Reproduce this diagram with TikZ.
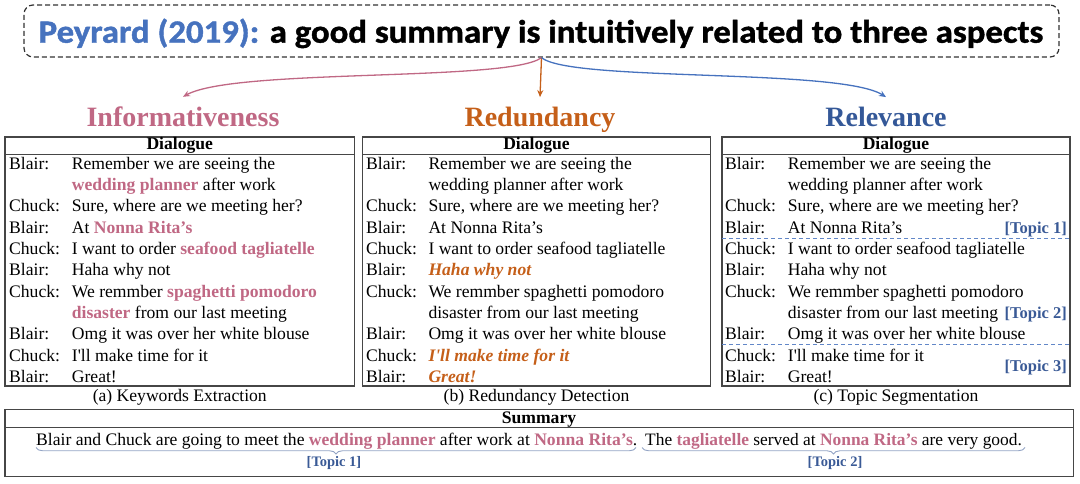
\documentclass[tikz,border=0pt]{standalone}
\usepackage{fontspec}
\setmainfont{Liberation Serif}
\newfontfamily\titlefont[BoldFeatures={FakeBold=1.2}]{Carlito}
\usetikzlibrary{arrows.meta,decorations.pathreplacing}
\definecolor{pinkc}{RGB}{192,104,132}
\definecolor{orangec}{RGB}{197,95,25}
\definecolor{titleblue}{RGB}{70,114,190}
\definecolor{relblue}{RGB}{52,88,152}
\definecolor{topicc}{RGB}{58,90,150}
\definecolor{framec}{RGB}{70,70,70}
\newcommand{\hlp}[1]{\textbf{\textcolor{pinkc}{#1}}}
\newcommand{\hlo}[1]{\textbf{\textit{\textcolor{orangec}{#1}}}}
\newcommand{\drow}[6]{\node[txt] (#1s) at (#2,#4) {#5}; \node[txt] (#1t) at (#3,#4) {#6};}
\newcommand{\dcont}[4]{\node[txt] (#1t) at (#2,#3) {#4};}
\tikzset{
  txt/.style={anchor=base west, inner sep=0pt, font=\fontsize{17.6}{21}\selectfont},
  hdr/.style={anchor=base, inner sep=0pt, font=\fontsize{17.6}{21}\selectfont\bfseries},
  capt/.style={anchor=base, inner sep=0pt, font=\fontsize{17.6}{21}\selectfont},
  aspect/.style={anchor=base, inner sep=0pt, font=\fontsize{28}{32}\selectfont\bfseries},
  frame/.style={draw=framec, line width=1.2pt},
  topic/.style={anchor=base east, inner sep=0pt, text=topicc, font=\fontsize{16.5}{20}\selectfont\bfseries},
  stopic/.style={anchor=base, inner sep=0pt, text=topicc, font=\fontsize{14.5}{17}\selectfont\bfseries},
  seg/.style={draw=titleblue!85, dash pattern=on 4pt off 3pt, line width=1pt},
  bracestyle/.style={draw=topicc!55, line width=0.9pt, decorate, decoration={brace, mirror, amplitude=6.5pt}},
  titlebox/.style={draw=black!80, dash pattern=on 5pt off 3pt, line width=1.2pt, rounded corners=9pt, minimum width=1035pt, minimum height=52pt, inner sep=0pt},
  conn/.style={line width=1.3pt, -{Stealth[length=7pt,width=6pt]}},
}
\begin{document}
\begin{tikzpicture}[x=1pt,y=-1pt]
\useasboundingbox (0,0) rectangle (1080,484);
% title
\node[titlebox] (title) at (541.5,31) {};
\node[anchor=base, inner sep=0pt, font=\titlefont\fontsize{32.5}{36}\selectfont\bfseries] (titletext) at (541,42.7) {\scalebox{1.07}[1]{\textcolor{titleblue}{Peyrard (2019):} a good summary is intuitively related to three aspects}};
% aspects
\node[aspect, text=pinkc] (info) at (183,126.7) {Informativeness};
\node[aspect, text=orangec] (redu) at (540,126.7) {Redundancy};
\node[aspect, text=relblue] (rele) at (886,126.7) {Relevance};
\draw[conn, pinkc] (title.south) .. controls (510,82) and (235,68) .. ([yshift=10pt]info.north);
\draw[conn, orangec] (title.south) -- ([yshift=10pt]redu.north);
\draw[conn, titleblue] (title.south) .. controls (570,82) and (840,68) .. ([yshift=10pt]rele.north);
% boxes
\draw[frame] (5,137) rectangle (354.5,386);
\draw[frame] (5,154.5) -- (354.5,154.5);
\draw[frame] (362.5,137) rectangle (710.5,386);
\draw[frame] (362.5,154.5) -- (710.5,154.5);
\draw[frame] (722,137) rectangle (1070,386);
\draw[frame] (722,154.5) -- (1070,154.5);
\node[hdr] (dha) at (179.75,149.3) {Dialogue};
\node[hdr] (dhb) at (536.5,149.3) {Dialogue};
\node[hdr] (dhc) at (896,149.3) {Dialogue};
% box a
\drow{a0}{9}{71.7}{169.3}{Blair:}{Remember we are seeing the}
\dcont{a1}{71.7}{190.6}{\hlp{wedding planner} after work}
\drow{a2}{9}{71.7}{211.9}{Chuck:}{Sure, where are we meeting her?}
\drow{a3}{9}{71.7}{233.2}{Blair:}{At \hlp{Nonna Rita’s}}
\drow{a4}{9}{71.7}{254.5}{Chuck:}{I want to order \hlp{seafood tagliatelle}}
\drow{a5}{9}{71.7}{275.8}{Blair:}{Haha why not}
\drow{a6}{9}{71.7}{297.1}{Chuck:}{We remmber \hlp{spaghetti pomodoro}}
\dcont{a7}{71.7}{318.4}{\hlp{disaster} from our last meeting}
\drow{a8}{9}{71.7}{339.7}{Blair:}{Omg it was over her white blouse}
\drow{a9}{9}{71.7}{361.0}{Chuck:}{I\textquotesingle ll make time for it}
\drow{a10}{9}{71.7}{382.3}{Blair:}{Great!}
% box b
\drow{b0}{366}{428.3}{169.3}{Blair:}{Remember we are seeing the}
\dcont{b1}{428.3}{190.6}{wedding planner after work}
\drow{b2}{366}{428.3}{211.9}{Chuck:}{Sure, where are we meeting her?}
\drow{b3}{366}{428.3}{233.2}{Blair:}{At Nonna Rita’s}
\drow{b4}{366}{428.3}{254.5}{Chuck:}{I want to order seafood tagliatelle}
\drow{b5}{366}{428.3}{275.8}{Blair:}{\hlo{Haha why not}}
\drow{b6}{366}{428.3}{297.1}{Chuck:}{We remmber spaghetti pomodoro}
\dcont{b7}{428.3}{318.4}{disaster from our last meeting}
\drow{b8}{366}{428.3}{339.7}{Blair:}{Omg it was over her white blouse}
\drow{b9}{366}{428.3}{361.0}{Chuck:}{\hlo{I\textquotesingle ll make time for it}}
\drow{b10}{366}{428.3}{382.3}{Blair:}{\hlo{Great!}}
% box c
\drow{c0}{725}{787.7}{169.3}{Blair:}{Remember we are seeing the}
\dcont{c1}{787.7}{190.6}{wedding planner after work}
\drow{c2}{725}{787.7}{211.9}{Chuck:}{Sure, where are we meeting her?}
\drow{c3}{725}{787.7}{233.2}{Blair:}{At Nonna Rita’s}
\drow{c4}{725}{787.7}{254.5}{Chuck:}{I want to order seafood tagliatelle}
\drow{c5}{725}{787.7}{275.8}{Blair:}{Haha why not}
\drow{c6}{725}{787.7}{297.1}{Chuck:}{We remmber spaghetti pomodoro}
\dcont{c7}{787.7}{318.4}{disaster from our last meeting}
\drow{c8}{725}{787.7}{339.7}{Blair:}{Omg it was over her white blouse}
\drow{c9}{725}{787.7}{361.0}{Chuck:}{I\textquotesingle ll make time for it}
\drow{c10}{725}{787.7}{382.3}{Blair:}{Great!}
\draw[seg] (722,239) -- (1070,239);
\draw[seg] (722,344) -- (1070,344);
\node[topic] (t1) at (1067,233.2) {[Topic 1]};
\node[topic] (t2) at (1067,318.4) {[Topic 2]};
\node[topic] (t3) at (1067,371.5) {[Topic 3]};
% captions
\node[capt] (capa) at (179.75,401) {(a) Keywords Extraction};
\node[capt] (capb) at (536.5,401) {(b) Redundancy Detection};
\node[capt] (capc) at (896,401) {(c) Topic Segmentation};
% summary
\draw[frame] (5,409.5) rectangle (1073.5,476.5);
\draw[frame] (5,427.5) -- (1073.5,427.5);
\node[hdr] (sumh) at (539,423) {Summary};
\node[txt, font=\fontsize{17.6}{21}\selectfont] (suma) at (36,445) {Blair and Chuck are going to meet the \hlp{wedding planner} after work at \hlp{Nonna Rita’s}.};
\node[txt, font=\fontsize{17.4}{21}\selectfont] (sumb) at (645,445) {The \hlp{tagliatelle} served at \hlp{Nonna Rita’s} are very good.};
\draw[bracestyle] (36,447.5) -- (636,447.5);
\draw[bracestyle] (642,447.5) -- (1025,447.5);
\node[stopic] (st1) at (334,466) {[Topic 1]};
\node[stopic] (st2) at (835,466) {[Topic 2]};
\end{tikzpicture}
\end{document}
